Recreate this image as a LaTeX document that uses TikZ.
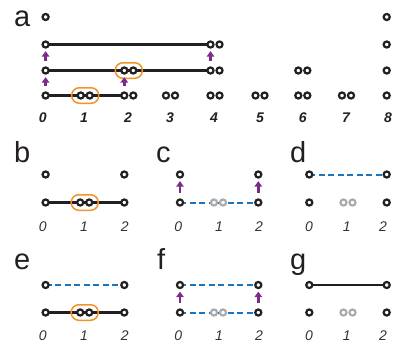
\documentclass[tikz,border=0pt]{standalone}
\usepackage{fontspec}
\setmainfont{Liberation Sans}
\usetikzlibrary{arrows.meta,backgrounds}
\definecolor{ink}{HTML}{231F20}
\definecolor{cpurple}{HTML}{7D2B8B}
\definecolor{corange}{HTML}{F39325}
\definecolor{cblue}{HTML}{1C75BC}
\definecolor{cgray}{HTML}{ABABAB}
\definecolor{numgray}{HTML}{333333}
\tikzset{
  ring/.style={circle,draw=ink,line width=2.2pt,fill=white,minimum size=6.1pt,inner sep=0pt},
  gring/.style={ring,draw=cgray},
  conn/.style={line width=2.5pt,draw=ink},
  dconn/.style={line width=2pt,draw=cblue,dash pattern=on 6pt off 3.5pt},
  uparrow/.style={-{Triangle[width=7.5pt,length=5.5pt]},line width=2.8pt,draw=cpurple,shorten <=5pt,shorten >=2.5pt},
  obox/.style={draw=corange,line width=1.5pt,rounded corners=7.5pt,minimum width=27pt,minimum height=15.5pt,inner sep=0pt},
  plabel/.style={font=\fontsize{29}{29}\selectfont,anchor=base west,inner sep=0pt,text=ink},
  numA/.style={font=\fontsize{14}{14}\selectfont\bfseries\itshape,inner sep=0pt,text=ink},
  num/.style={font=\fontsize{14}{14}\selectfont\itshape,inner sep=0pt,text=numgray},
}
\begin{document}
\begin{tikzpicture}[x=1pt,y=-1pt]
\useasboundingbox (0,0) rectangle (393,346);
% ---------------- panel a ----------------
\node[plabel] (la) at (14,26.5) {a};
\def\Pz{45.6}\def\Pe{386.7}
% row 1 (y=17)
\node[ring] (a0r1) at (\Pz,17) {};
\node[ring] (a8r1) at (\Pe,17) {};
% row 2 (y=44.5)
\node[ring] (a0r2) at (\Pz,44.5) {};
\node[ring] (a4r2L) at (210.5,44.5) {};
\node[ring] (a4r2R) at (219.5,44.5) {};
\node[ring] (a8r2) at (\Pe,44.5) {};
% row 3 (y=70.5)
\node[ring] (a0r3) at (\Pz,70.5) {};
\node[ring] (a2r3L) at (124.3,70.5) {};
\node[ring] (a2r3R) at (133.3,70.5) {};
\node[ring] (a4r3L) at (210.5,70.5) {};
\node[ring] (a4r3R) at (219.5,70.5) {};
\node[ring] (a6r3L) at (298.3,70.5) {};
\node[ring] (a6r3R) at (307.3,70.5) {};
\node[ring] (a8r3) at (\Pe,70.5) {};
% row 4 (y=95.5)
\node[ring] (a0r4) at (\Pz,95.5) {};
\node[ring] (a1r4L) at (80.7,95.5) {};
\node[ring] (a1r4R) at (89.7,95.5) {};
\node[ring] (a2r4L) at (124.3,95.5) {};
\node[ring] (a2r4R) at (133.3,95.5) {};
\node[ring] (a3r4L) at (166,95.5) {};
\node[ring] (a3r4R) at (175,95.5) {};
\node[ring] (a4r4L) at (210.5,95.5) {};
\node[ring] (a4r4R) at (219.5,95.5) {};
\node[ring] (a5r4L) at (255.5,95.5) {};
\node[ring] (a5r4R) at (264.5,95.5) {};
\node[ring] (a6r4L) at (298.3,95.5) {};
\node[ring] (a6r4R) at (307.3,95.5) {};
\node[ring] (a7r4L) at (342,95.5) {};
\node[ring] (a7r4R) at (351,95.5) {};
\node[ring] (a8r4) at (\Pe,95.5) {};
\begin{scope}[on background layer]
  \draw[conn] (a0r2.center) -- (a4r2L.center);
  \draw[conn] (a0r3.center) -- (a4r3L.center);
  \draw[conn] (a0r4.center) -- (a2r4L.center);
\end{scope}
\node[obox] (boxa1) at (85.2,95.5) {};
\node[obox] (boxa2) at (128.8,70.5) {};
\draw[uparrow] (a0r4) -- (a0r3);
\draw[uparrow] (a0r3) -- (a0r2);
\draw[uparrow] (a2r4L) -- (a2r3L);
\draw[uparrow] (a4r3L) -- (a4r2L);
% labels
\node[numA] (na0) at (42.7,118) {0};
\node[numA] (na1) at (84,118) {1};
\node[numA] (na2) at (128,118) {2};
\node[numA] (na3) at (170,118) {3};
\node[numA] (na4) at (214,118) {4};
\node[numA] (na5) at (260,118) {5};
\node[numA] (na6) at (302.7,118) {6};
\node[numA] (na7) at (346,118) {7};
\node[numA] (na8) at (388,118) {8};
% ---------------- panel b ----------------
\node[plabel] (lb) at (14,162) {b};
\node[ring] (b0t) at (45.6,174.5) {};
\node[ring] (b2t) at (124.3,174.5) {};
\node[ring] (b0b) at (45.6,202.5) {};
\node[ring] (b1L) at (80.2,202.5) {};
\node[ring] (b1R) at (89.2,202.5) {};
\node[ring] (b2b) at (124.3,202.5) {};
\begin{scope}[on background layer]
  \draw[conn] (b0b.center) -- (b2b.center);
\end{scope}
\node[obox] (boxb) at (84.7,202.5) {};
\node[num] (nb0) at (42.7,226.7) {0};
\node[num] (nb1) at (84,226.7) {1};
\node[num] (nb2) at (124.7,226.7) {2};
% ---------------- panel c ----------------
\node[plabel] (lc) at (156,162) {c};
\node[ring] (c0t) at (180,174.5) {};
\node[ring] (c2t) at (258.3,174.5) {};
\node[ring] (c0b) at (180,202.5) {};
\node[gring] (c1L) at (214,202.5) {};
\node[gring] (c1R) at (223,202.5) {};
\node[ring] (c2b) at (258.3,202.5) {};
\begin{scope}[on background layer]
  \draw[dconn] (c0b.center) -- (c2b.center);
\end{scope}
\draw[uparrow] (c0b) -- (c0t);
\draw[uparrow] (c2b) -- (c2t);
\node[num] (nc0) at (178.3,226.7) {0};
\node[num] (nc1) at (219,226.7) {1};
\node[num] (nc2) at (259,226.7) {2};
% ---------------- panel d ----------------
\node[plabel] (ld) at (290,162) {d};
\node[ring] (d0t) at (309.3,174.5) {};
\node[ring] (d2t) at (386.7,174.5) {};
\node[ring] (d0b) at (309.3,202.5) {};
\node[gring] (d1L) at (343.5,202.5) {};
\node[gring] (d1R) at (352.5,202.5) {};
\node[ring] (d2b) at (386.7,202.5) {};
\begin{scope}[on background layer]
  \draw[dconn] (d0t.center) -- (d2t.center);
\end{scope}
\node[num] (nd0) at (309,226.7) {0};
\node[num] (nd1) at (346.7,226.7) {1};
\node[num] (nd2) at (383,226.7) {2};
% ---------------- panel e ----------------
\node[plabel] (le) at (14,269) {e};
\node[ring] (e0t) at (45.6,285) {};
\node[ring] (e2t) at (124.3,285) {};
\node[ring] (e0b) at (45.6,312.5) {};
\node[ring] (e1L) at (80.2,312.5) {};
\node[ring] (e1R) at (89.2,312.5) {};
\node[ring] (e2b) at (124.3,312.5) {};
\begin{scope}[on background layer]
  \draw[dconn] (e0t.center) -- (e2t.center);
  \draw[conn] (e0b.center) -- (e2b.center);
\end{scope}
\node[obox] (boxe) at (84.7,312.5) {};
\node[num] (ne0) at (42.7,336) {0};
\node[num] (ne1) at (84,336) {1};
\node[num] (ne2) at (124.7,336) {2};
% ---------------- panel f ----------------
\node[plabel] (lf) at (157,269) {f};
\node[ring] (f0t) at (180,285) {};
\node[ring] (f2t) at (258.3,285) {};
\node[ring] (f0b) at (180,312.5) {};
\node[gring] (f1L) at (214,312.5) {};
\node[gring] (f1R) at (223,312.5) {};
\node[ring] (f2b) at (258.3,312.5) {};
\begin{scope}[on background layer]
  \draw[dconn] (f0t.center) -- (f2t.center);
  \draw[dconn] (f0b.center) -- (f2b.center);
\end{scope}
\draw[uparrow] (f0b) -- (f0t);
\draw[uparrow] (f2b) -- (f2t);
\node[num] (nf0) at (178.3,336) {0};
\node[num] (nf1) at (219,336) {1};
\node[num] (nf2) at (259,336) {2};
% ---------------- panel g ----------------
\node[plabel] (lg) at (290,269) {g};
\node[ring] (g0t) at (309.3,285) {};
\node[ring] (g2t) at (386.7,285) {};
\node[ring] (g0b) at (309.3,312.5) {};
\node[gring] (g1L) at (343.5,312.5) {};
\node[gring] (g1R) at (352.5,312.5) {};
\node[ring] (g2b) at (386.7,312.5) {};
\begin{scope}[on background layer]
  \draw[conn] (g0t.center) -- (g2t.center);
\end{scope}
\node[num] (ng0) at (309,336) {0};
\node[num] (ng1) at (346.7,336) {1};
\node[num] (ng2) at (383,336) {2};
\end{tikzpicture}
\end{document}
